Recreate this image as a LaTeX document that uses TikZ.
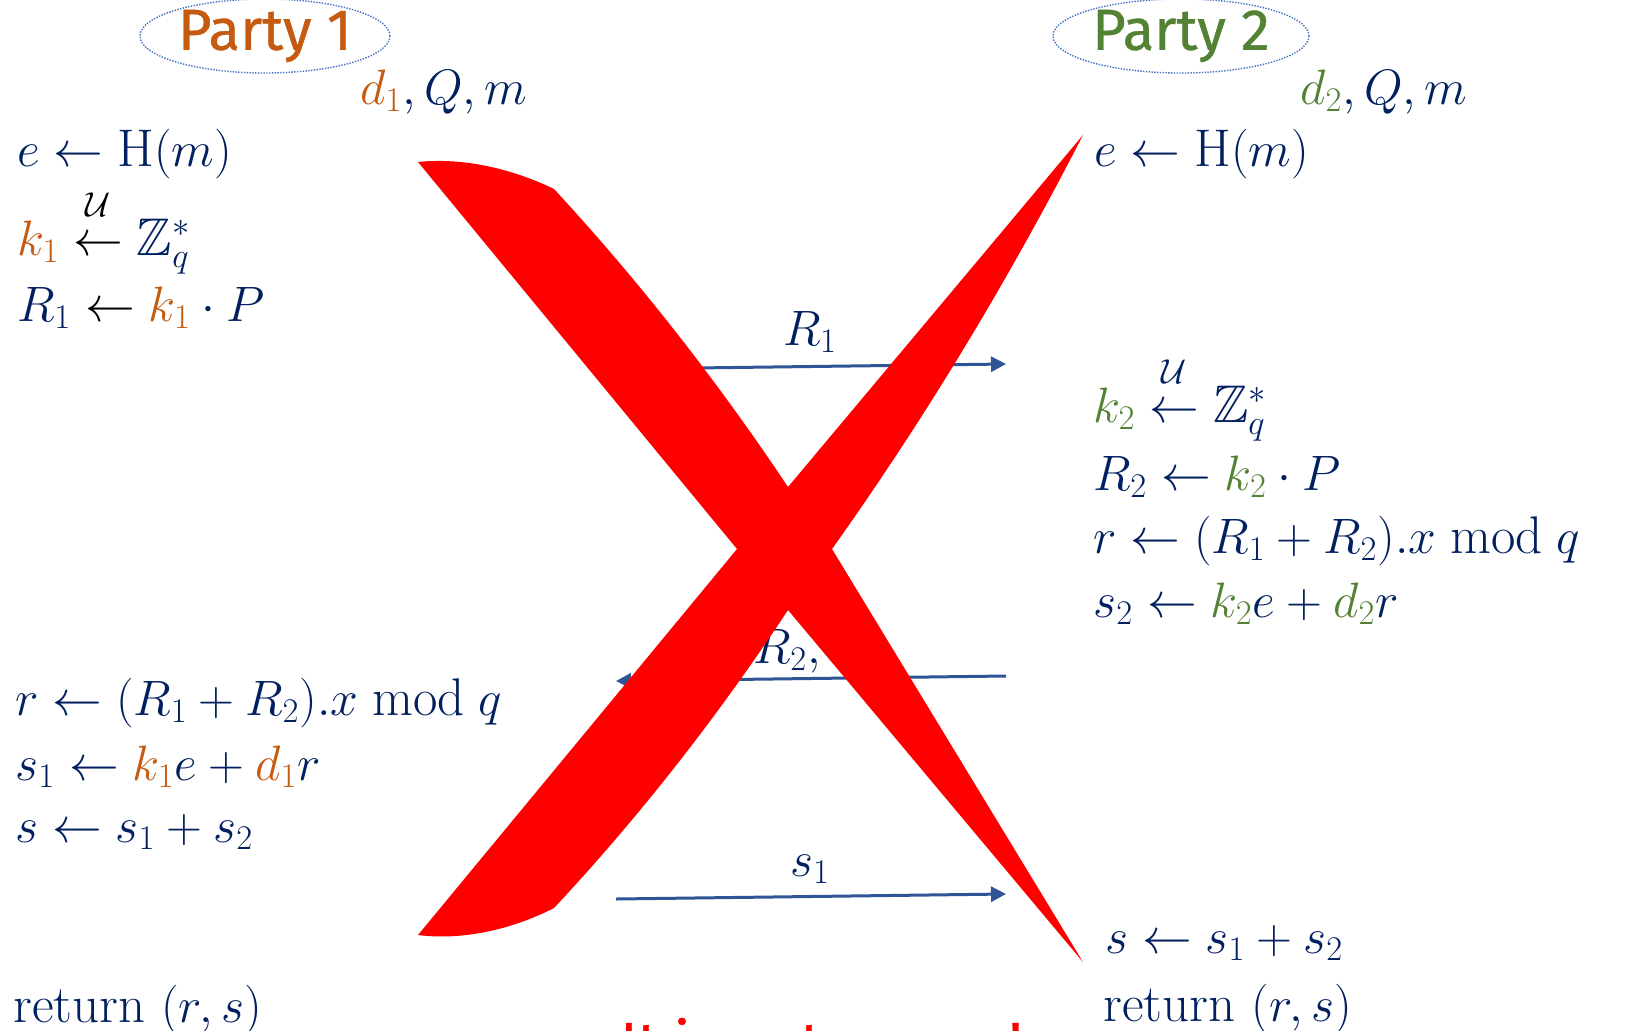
\documentclass[tikz,border=0pt]{standalone}
\usepackage{amsmath,amssymb}
\usepackage{fontspec}
\newfontfamily\partyfont[FakeBold=0.6]{Fira Sans}
\usetikzlibrary{arrows.meta,shapes.geometric}
\definecolor{navy}{HTML}{002060}
\definecolor{porange}{HTML}{C55A11}
\definecolor{pgreen}{HTML}{548235}
\definecolor{arrowblue}{HTML}{2F5597}
\definecolor{ellblue}{HTML}{4472C4}
\definecolor{xred}{HTML}{FF0000}
\newcommand{\pone}[1]{\textcolor{porange}{#1}}
\newcommand{\ptwo}[1]{\textcolor{pgreen}{#1}}
\newcommand{\blk}[1]{\mathrel{\textcolor{black}{#1}}}
\newcommand{\unif}{\overset{\mathcal{U}\rule[-7pt]{0pt}{7pt}}{\leftarrow}}
\begin{document}
\begin{tikzpicture}[x=0.5pt,y=-0.5pt,
  mathtxt/.style={anchor=base west, inner sep=0pt, text=navy, font=\fontsize{26.5}{31}\selectfont},
  party/.style={ellipse, draw=ellblue, line width=0.7pt, dash pattern=on 0.7pt off 0.7pt, inner sep=0pt, font=\partyfont\fontsize{29}{34}\selectfont},
  msg/.style={draw=arrowblue, line width=1.5pt, -{Triangle[length=7.5pt,width=7.5pt]}},
  lbl/.style={anchor=base, inner sep=0pt, text=navy, font=\fontsize{26.5}{31}\selectfont}]
\clip (0,0) rectangle (1630,1030);
\fill[white] (0,0) rectangle (1630,1030);

% parties
\node[party, text=porange, minimum width=125pt, minimum height=34pt] (p1) at (265,36) {Party 1};
\node[party, text=pgreen, minimum width=128pt, minimum height=34pt] (p2) at (1181,36) {Party 2};
\node[mathtxt] (d1) at (360,104) {$\pone{d_1}, Q, m$};
\node[mathtxt] (d2) at (1300,104) {$\ptwo{d_2}, Q, m$};

% party 1 computations
\node[mathtxt] (l1) at (17,166) {$e \leftarrow \mathrm{H}(m)$};
\node[mathtxt] (l2) at (17,255) {$\pone{k_1} \blk{\unif} \mathbb{Z}_q^*$};
\node[mathtxt] (l3) at (17,321) {$R_1 \blk{\leftarrow} \pone{k_1}\cdot P$};
\node[mathtxt] (l4) at (15,715) {$r \leftarrow (R_1+R_2).x \bmod q$};
\node[mathtxt] (l5) at (15,780) {$s_1 \leftarrow \pone{k_1} e + \pone{d_1} r$};
\node[mathtxt] (l6) at (15,842) {$s \leftarrow s_1 + s_2$};
\node[mathtxt] (l7) at (13,1022) {return $(r,s)$};

% party 2 computations
\node[mathtxt] (r1) at (1094,166) {$e \leftarrow \mathrm{H}(m)$};
\node[mathtxt] (r2) at (1093,422) {$\ptwo{k_2} \unif \mathbb{Z}_q^*$};
\node[mathtxt] (r3) at (1093,490) {$R_2 \leftarrow \ptwo{k_2}\cdot P$};
\node[mathtxt] (r4) at (1093,553) {$r \leftarrow (R_1+R_2).x \bmod q$};
\node[mathtxt] (r5) at (1093,617) {$s_2 \leftarrow \ptwo{k_2} e + \ptwo{d_2} r$};
\node[mathtxt] (r6) at (1105,953) {$s \leftarrow s_1 + s_2$};
\node[mathtxt] (r7) at (1103,1021) {return $(r,s)$};

% messages
\coordinate (m1a) at (616,369); \coordinate (m1b) at (1006,364);
\draw[msg] (m1a) -- (m1b);
\node[lbl] (m1l) at (810,345) {$R_1$};
\coordinate (m2a) at (1006,676); \coordinate (m2b) at (616,681);
\draw[msg] (m2a) -- (m2b);
\node[lbl] (m2l) at (811,663) {$R_2, s_2$};
\coordinate (m3a) at (616,899); \coordinate (m3b) at (1006,894);
\draw[msg] (m3a) -- (m3b);
\node[lbl] (m3l) at (810,876) {$s_1$};

% warning text (cut by the lower edge)
\node[anchor=base west, inner sep=0pt, text=xred, font=\partyfont\fontsize{29}{34}\selectfont] (warn) at (620,1063) {It is not secure!};

% big red cross
\fill[xred] (418,162) .. controls (465,157) and (515,170) .. (554,189)
  .. controls (640,282) and (718,382) .. (788,487)
  -- (1083,135)
  .. controls (1009,279) and (926,417) .. (832,549)
  -- (1083,962)
  -- (788,610)
  .. controls (718,716) and (640,816) .. (554,908)
  .. controls (515,928) and (465,941) .. (418,935)
  -- (737,549) -- cycle;
\end{tikzpicture}
\end{document}
